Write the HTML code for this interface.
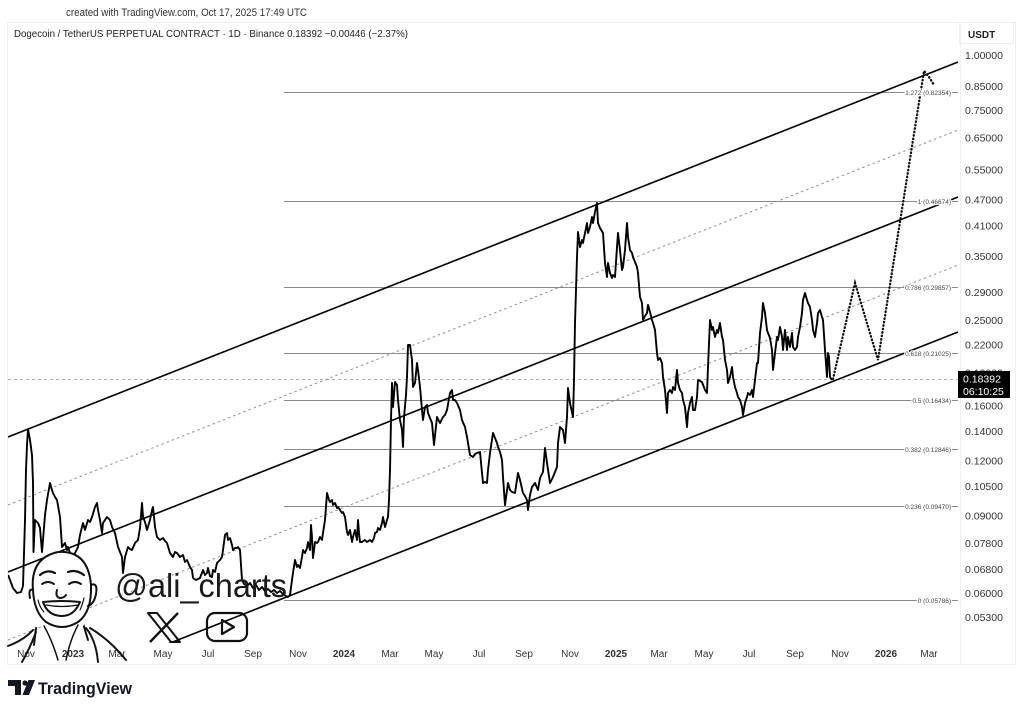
<!DOCTYPE html>
<html><head><meta charset="utf-8"><style>
html,body{margin:0;padding:0;background:#fff;width:1024px;height:710px;overflow:hidden}
svg{display:block}
text{font-family:"Liberation Sans",Arial,sans-serif}
</style></head><body>
<svg width="1024" height="710" viewBox="0 0 1024 710" xmlns="http://www.w3.org/2000/svg">
<rect width="1024" height="710" fill="#fff"/>
<!-- frame -->
<rect x="7.5" y="22.5" width="1008" height="642" fill="none" stroke="#efefef"/>
<line x1="960.5" y1="22" x2="960.5" y2="665" stroke="#f0f0f0"/>
<rect x="959.5" y="22.5" width="54" height="21" fill="none" stroke="#eeeeee"/>

<text x="66" y="16" font-size="11" fill="#333" textLength="241" lengthAdjust="spacingAndGlyphs">created with TradingView.com, Oct 17, 2025 17:49 UTC</text>
<text x="14" y="37" font-size="10" fill="#222" textLength="394" lengthAdjust="spacingAndGlyphs">Dogecoin / TetherUS PERPETUAL CONTRACT · 1D · Binance  0.18392  −0.00446 (−2.37%)</text>
<text x="968" y="38" font-size="10" fill="#222" font-weight="bold">USDT</text>

<defs><clipPath id="plot"><rect x="8" y="45" width="950" height="598"/></clipPath></defs>

<g clip-path="url(#plot)">
 <!-- fib lines -->
 <g stroke="#8a8a8a" stroke-width="1">
  <line x1="284" y1="92.5" x2="958" y2="92.5"/>
  <line x1="284" y1="201.5" x2="958" y2="201.5"/>
  <line x1="284" y1="287.5" x2="958" y2="287.5"/>
  <line x1="284" y1="353.5" x2="958" y2="353.5"/>
  <line x1="284" y1="400.5" x2="958" y2="400.5"/>
  <line x1="284" y1="449.5" x2="958" y2="449.5"/>
  <line x1="284" y1="506.5" x2="958" y2="506.5"/>
  <line x1="284" y1="600.5" x2="958" y2="600.5"/>
 </g>
 <!-- current price dashed -->
 <line x1="8" y1="379.5" x2="958" y2="379.5" stroke="#b0b0b0" stroke-width="1" stroke-dasharray="3,3"/>
 <!-- channel -->
 <g stroke="#000" stroke-width="1.6">
  <line x1="8" y1="437" x2="958" y2="62"/>
  <line x1="8" y1="572" x2="958" y2="197"/>
  <line x1="8" y1="707" x2="958" y2="332"/>
 </g>
 <g stroke="#8f8f8f" stroke-width="1" stroke-dasharray="2.5,3">
  <line x1="8" y1="505" x2="958" y2="130"/>
  <line x1="8" y1="640" x2="958" y2="265"/>
 </g>
 <!-- price -->
 <polyline fill="none" stroke="#000" stroke-width="1.9" stroke-linejoin="round" points="8,575 10,580 13,588 17,593 21,592 23,586 25,520 26,470 27,445 28,429 30,440 32,455 33,483 33.5,552 35,520 38,523 40,528 42,552 43,540 45,515 47,500 50,483 52,490 53,493 55,497 57,500 60,517 62,547 65,543 67,550 68,547 70,553 72,560 75,553 78,547 80,535 82,527 83,523 85,530 88,520 90,522 92,517 95,507 97,503 98,510 100,520 102,533 103,523 105,520 107,517 110,520 112,527 115,533 118,547 120,552 122,557 123,573 125,557 128,547 130,549 132,550 135,543 138,540 140,528 142,503 143,517 145,522 147,530 150,520 152,510 153,507 155,527 157,537 160,540 163,538 165,541 167,543 170,553 173,557 175,552 177,553 180,557 183,555 185,562 187,560 190,567 192,570 193,578 196,580 200,578 203,570 205,575 207,573 208,568 210,576 212,577 213,570 215,572 217,563 220,560 222,557 223,550 225,535 227,533 228,540 230,538 232,545 233,550 235,548 237,548 238,547 240,550 241,565 242,580 244,584 247,586 250,583 253,588 256,585 259,590 262,587 265,591 268,589 271,592 274,590 277,593 280,591 283,594 286,596 288,597 290,595 292,580 293,573 295,560 297,567 298,565 300,568 302,557 303,550 305,553 307,548 308,542 310,550 311,525 312,537 313,558 315,542 317,543 318,542 320,537 322,540 323,533 325,520 326,507 327,493 329,500 330,502 332,500 333,505 335,503 337,508 338,507 340,510 342,513 343,512 345,517 347,532 348,535 350,530 352,542 353,537 355,530 357,540 358,520 359,533 360,542 362,542 365,540 367,542 370,540 372,542 374,538 375,533 377,532 378,528 380,530 382,523 383,517 385,527 387,520 388,517 389,500 390,470 391,420 392,383 393,407 395,382 397,385 398,400 400,420 402,430 403,447 404,417 406,395 407,377 408,345 410,345 412,360 413,387 415,383 417,363 418,370 420,387 422,410 423,420 425,407 427,405 428,413 430,418 432,423 434,445 437,417 440,423 443,417 445,415 447,410 450,393 452,390 453,400 455,400 457,403 460,410 462,420 465,427 467,437 470,455 473,457 475,454 477,453 480,452 482,473 483,483 485,482 487,483 488,470 490,453 493,433 495,438 497,443 498,447 500,452 502,460 503,477 505,505 508,483 510,490 512,492 515,493 518,473 520,480 523,493 525,496 527,500 528,510 530,495 532,487 535,483 538,490 540,478 543,472 545,448 547,463 550,483 553,477 557,467 558,443 560,427 563,430 565,443 567,417 568,388 570,403 573,417 574,380 575,323 577,257 578,232 580,247 582,240 583,243 585,233 587,223 588,233 590,227 592,217 593,223 595,212 597,203 598,223 600,228 603,233 605,263 607,277 608,263 610,273 612,278 613,275 615,277 617,247 618,233 620,250 622,270 623,267 625,250 627,223 628,237 630,250 632,253 633,257 635,262 637,267 638,273 640,297 642,303 643,320 645,316 647,313 648,305 650,312 652,320 653,323 655,330 657,353 658,360 660,358 662,363 663,377 665,390 667,413 668,393 670,390 672,393 673,387 675,390 677,370 678,383 680,390 682,393 683,400 685,407 687,427 688,413 690,403 692,397 693,410 695,410 697,397 698,380 700,381 702,382 705,390 707,393 708,367 710,320 712,330 713,327 715,337 717,330 718,333 720,323 722,337 723,340 725,360 727,370 728,383 730,377 732,367 733,377 735,387 737,393 738,397 740,400 742,407 743,415 745,403 747,397 748,393 750,395 752,390 753,397 755,380 757,363 758,363 760,333 762,317 763,303 765,313 767,330 768,333 770,338 772,350 773,370 775,353 777,337 778,340 780,327 782,337 783,350 785,330 787,350 788,337 790,347 792,333 793,347 795,350 797,347 798,337 800,327 802,313 803,300 805,293 807,300 808,303 810,307 812,320 813,330 815,337 817,323 818,313 820,310 822,317 823,320 825,350 827,377 828,353 829,357 830,377 832,380"/>
 <!-- projection -->
 <polyline fill="none" stroke="#111" stroke-width="2.3" stroke-linecap="round" stroke-dasharray="0.5,3" points="833,379 855,283 878,360 924,71 929,77 934,85"/>
 <!-- fib labels -->
 <g font-size="6.5" fill="#444" text-anchor="end" stroke="#fff" stroke-width="2.5" paint-order="stroke">
  <text x="951" y="94.8">1.272 (0.82354)</text>
  <text x="951" y="203.8">1 (0.46674)</text>
  <text x="951" y="289.8">0.786 (0.29857)</text>
  <text x="951" y="355.8">0.618 (0.21025)</text>
  <text x="951" y="402.8">0.5 (0.16434)</text>
  <text x="951" y="451.8">0.382 (0.12846)</text>
  <text x="951" y="508.8">0.236 (0.09470)</text>
  <text x="951" y="602.8">0 (0.05786)</text>
 </g>
</g>

<!-- right axis labels -->
<g font-size="10.5" fill="#333">
 <text x="965" y="59">1.00000</text>
 <text x="965" y="90">0.85000</text>
 <text x="965" y="114">0.75000</text>
 <text x="965" y="141.5">0.65000</text>
 <text x="965" y="173.5">0.55000</text>
 <text x="965" y="203.5">0.47000</text>
 <text x="965" y="229.5">0.41000</text>
 <text x="965" y="260">0.35000</text>
 <text x="965" y="296">0.29000</text>
 <text x="965" y="324">0.25000</text>
 <text x="965" y="348.5">0.22000</text>
 <text x="965" y="376.5">0.19000</text>
 <text x="965" y="409.5">0.16000</text>
 <text x="965" y="435">0.14000</text>
 <text x="965" y="464.5">0.12000</text>
 <text x="965" y="490">0.10500</text>
 <text x="965" y="519.5">0.09000</text>
 <text x="965" y="547">0.07800</text>
 <text x="965" y="573">0.06800</text>
 <text x="965" y="597">0.06000</text>
 <text x="965" y="621">0.05300</text>
</g>
<rect x="958" y="371" width="52" height="27" fill="#000"/>
<text x="963" y="382.5" font-size="10.5" fill="#fff">0.18392</text>
<text x="963" y="395" font-size="10.5" fill="#fff">06:10:25</text>

<!-- time axis -->
<g font-size="10" fill="#333" text-anchor="middle">
 <text x="26" y="657">Nov</text>
 <text x="73" y="657" font-weight="bold">2023</text>
 <text x="117" y="657">Mar</text>
 <text x="163" y="657">May</text>
 <text x="208" y="657">Jul</text>
 <text x="253" y="657">Sep</text>
 <text x="298" y="657">Nov</text>
 <text x="344" y="657" font-weight="bold">2024</text>
 <text x="390" y="657">Mar</text>
 <text x="434" y="657">May</text>
 <text x="479" y="657">Jul</text>
 <text x="524" y="657">Sep</text>
 <text x="570" y="657">Nov</text>
 <text x="616" y="657" font-weight="bold">2025</text>
 <text x="659" y="657">Mar</text>
 <text x="704" y="657">May</text>
 <text x="749" y="657">Jul</text>
 <text x="795" y="657">Sep</text>
 <text x="840" y="657">Nov</text>
 <text x="886" y="657" font-weight="bold">2026</text>
 <text x="929" y="657">Mar</text>
</g>

<!-- face sketch -->
<g stroke="#111" stroke-width="2" fill="none" stroke-linecap="round" stroke-linejoin="round">
 <path d="M36,628 L34,645 M82,620 L88,640" />
 <path d="M40,612 Q62,640 84,612 L84,625 Q62,650 40,625 Z" fill="#fff" stroke="none"/>
 <path d="M33,590 Q30,558 58,552 Q88,550 91,585 Q92,612 78,622 Q62,632 46,622 Q34,612 33,590 Z" fill="#fff"/>
 <path d="M91,585 Q98,582 96,594 Q94,604 88,606"/>
 <path d="M33,590 Q28,588 30,598"/>
 <path d="M40,575 Q47,569 55,573 M68,572 Q76,569 84,575" stroke-width="2.2"/>
 <path d="M42,584 Q48,580 54,584 M69,584 Q75,580 81,584"/>
 <path d="M57,590 Q55,597 60,598 Q64,598 66,595"/>
 <path d="M43,602 Q62,600 80,602 Q74,616 62,616 Q48,616 43,602 Z" fill="#fff"/>
 <path d="M46,605 Q62,608 78,605" stroke-width="1.2"/>
 <path d="M38,600 Q40,608 44,612 M84,598 Q82,606 80,610" stroke-width="1.2"/>
 <path d="M33,630 Q24,640 8,646 M36,632 Q30,648 22,662"/>
 <path d="M86,628 Q96,640 98,662 M90,628 Q110,640 126,660"/>
 <path d="M44,626 Q52,640 58,660 M78,625 Q70,640 66,660" stroke-width="1.5"/>
</g>

<!-- handle text -->
<text x="115" y="597" font-size="33" fill="#1a1a1a" textLength="172" lengthAdjust="spacingAndGlyphs">@ali_charts</text>
<!-- X logo -->
<g stroke="#111" fill="none" stroke-width="2" stroke-linejoin="round">
 <path d="M148,613 L157,613 L180,642 L171,642 Z"/>
 <path d="M178,613 L150,642" stroke-width="2.4"/>
</g>
<!-- YouTube -->
<g stroke="#111" fill="none" stroke-width="2.2" stroke-linejoin="round">
 <rect x="207" y="613" width="40" height="28" rx="8"/>
 <path d="M222,620 L222,634 L234,627 Z"/>
</g>

<!-- TradingView logo -->
<g fill="#131722">
 <path d="M8,680 H21 V695 H15 V686 H8 Z"/>
 <circle cx="25" cy="683" r="2.6"/>
 <path d="M28.5,680 H35 L29,695 H22.5 Z"/>
</g>
<text x="38" y="694" font-size="17" font-weight="bold" fill="#131722" textLength="94" lengthAdjust="spacingAndGlyphs">TradingView</text>
</svg>
</body></html>
